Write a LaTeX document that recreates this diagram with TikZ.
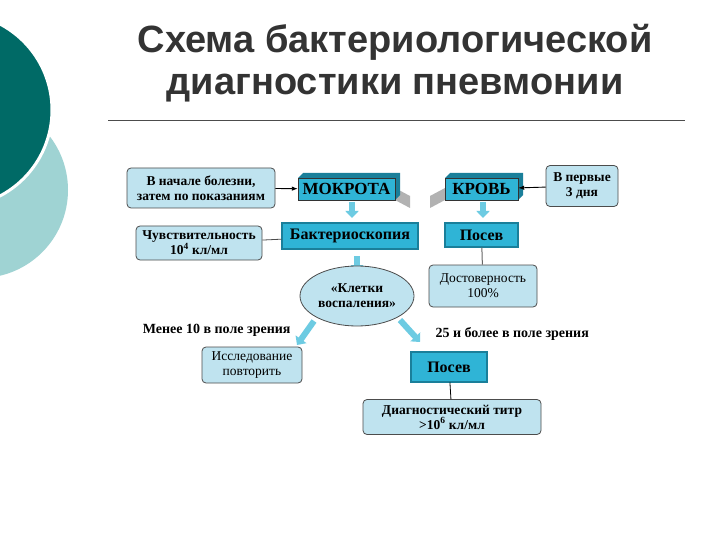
\documentclass[tikz,border=0pt]{standalone}
\usepackage{fontspec}
\setmainfont{Liberation Serif}
\newfontfamily\titlefont{Liberation Sans}
\usetikzlibrary{shapes.geometric,arrows.meta,calc}
\definecolor{dteal}{HTML}{006A66}
\definecolor{lteal}{HTML}{9FD3D3}
\definecolor{lbox}{HTML}{BFE3EF}
\definecolor{bbox}{HTML}{2FB4D6}
\definecolor{bdark}{HTML}{1A7F9A}
\tikzset{
 info/.style={draw=black!70,line width=0.8pt,fill=lbox,rounded corners=4pt,align=center,font=\fontsize{13.5}{15}\selectfont\bfseries,inner sep=1pt},
 bevel/.style={draw=black!80,line width=0.6pt,fill=bbox,double=bdark,double distance=1.2pt,align=center,inner sep=1pt,font=\fontsize{16}{18}\selectfont\bfseries},
 blockarr/.style={-{Triangle[width=13pt,length=7pt]},line width=6pt,draw=bbox!70},
 lbl/.style={font=\fontsize{14}{16}\selectfont\bfseries}
}
\begin{document}
\begin{tikzpicture}[x=1pt,y=-1pt]
\useasboundingbox (0,0) rectangle (720,540);
\fill[white] (0,0) rectangle (720,540);
\fill[lteal] (-20,190) circle (88);
\fill[dteal,draw=white,line width=3pt] (-45,110) circle (97);
\node[font=\titlefont\bfseries\fontsize{38}{42}\selectfont,text=black!80] (t1) at (395,42) {Схема бактериологической};
\node[font=\titlefont\bfseries\fontsize{38}{42}\selectfont,text=black!80] (t2) at (395,88) {диагностики пневмонии};
\coordinate (l1) at (108,120); \coordinate (l2) at (685,120);
\draw[black!70,line width=0.6pt] (l1) -- (l2);

\node[info,minimum width=148pt,minimum height=40pt] (a) at (201,188) {В начале болезни,\\ затем по показаниям};
\node[info,minimum width=72pt,minimum height=41pt] (b) at (582,186) {В первые\\ 3 дня};
% 3D boxes
\fill[gray!60] (395,200) -- (410,208) -- (410,196) -- (395,188) -- cycle;
\fill[gray!60] (445,200) -- (430,208) -- (430,196) -- (445,188) -- cycle;
\fill[bdark] (298,178) -- (303,173) -- (400,173) -- (400,195) -- (395,200) -- (395,178) -- cycle;
\fill[bdark] (445,178) -- (450,173) -- (523,173) -- (523,195) -- (518,200) -- (518,178) -- cycle;
\node[draw=black!80,fill=bbox,minimum width=97pt,minimum height=22pt,inner sep=0pt,font=\fontsize{17}{18}\selectfont\bfseries] (m) at (346.5,189) {МОКРОТА};
\node[draw=black!80,fill=bbox,minimum width=73pt,minimum height=22pt,inner sep=0pt,font=\fontsize{17}{18}\selectfont\bfseries] (k) at (481.5,189) {КРОВЬ};
\draw[-{Latex[length=6pt]},line width=0.9pt] (a) -- (m);
\draw[-{Latex[length=6pt]},line width=0.9pt] (b) -- (k);

\node[bevel,minimum width=136pt,minimum height=26pt] (bak) at (350,236) {Бактериоскопия};
\node[bevel,minimum width=73pt,minimum height=24pt] (pos) at (481.5,235) {Посев};
\coordinate (m1) at (352,202); \coordinate (m2) at (352,218);
\coordinate (k1) at (483,202); \coordinate (k2) at (483,218);
\draw[blockarr] (m1) -- (m2);
\draw[blockarr] (k1) -- (k2);

\node[info,minimum width=126pt,minimum height=34pt] (ch) at (199,243) {Чувствительность\\ 10\textsuperscript{4} кл/мл};
\draw[black!70,line width=0.8pt] (ch) -- (bak);

\coordinate (e1) at (357,256); \coordinate (e2) at (357,272);
\draw[blockarr] (e1) -- (e2);
\node[ellipse,draw=black!70,line width=0.8pt,fill=lbox,minimum width=114pt,minimum height=60pt,inner sep=0pt,align=center,font=\fontsize{13.5}{15}\selectfont\bfseries] (el) at (357,296) {«Клетки\\ воспаления»};

\node[info,minimum width=108pt,minimum height=42pt,font=\fontsize{13.5}{15}\selectfont] (dos) at (483,286) {Достоверность\\ 100\%};
\draw[black!60,line width=1pt] (pos) -- (dos);

\node[lbl,anchor=east] (lm) at (294,330) {Менее 10 в поле зрения};
\node[lbl,anchor=west] (lb) at (432,334) {25 и более в поле зрения};
\coordinate (d1) at (314,321); \coordinate (d2) at (297,345);
\coordinate (d3) at (400,320); \coordinate (d4) at (420,342);
\draw[blockarr] (d1) -- (d2);
\draw[blockarr] (d3) -- (d4);

\node[info,minimum width=100pt,minimum height=36pt,font=\fontsize{13.5}{15}\selectfont] (is) at (252,365) {Исследование\\ повторить};
\node[bevel,minimum width=76pt,minimum height=30pt] (pos2) at (449,367) {Посев};
\node[info,minimum width=178pt,minimum height=35pt] (dt) at (452,417) {Диагностический титр\\ >10\textsuperscript{6} кл/мл};
\draw[black,line width=0.8pt] (pos2) -- (dt);
\end{tikzpicture}
\end{document}
